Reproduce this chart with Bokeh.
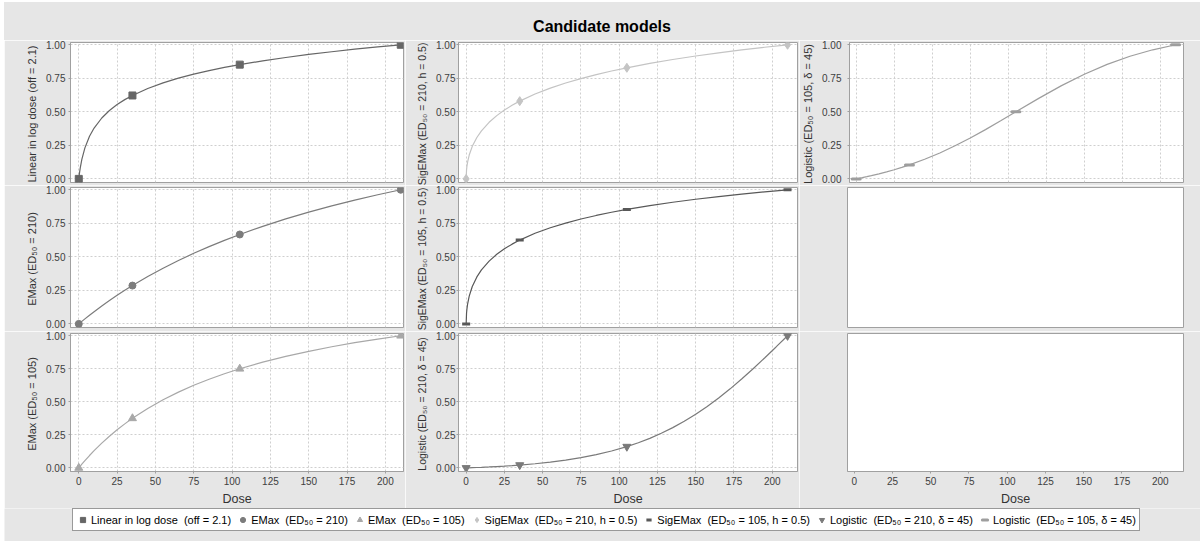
from bokeh.plotting import figure
from bokeh.models import Range1d, FixedTicker, Grid, Legend, LegendItem, Div, NumeralTickFormatter
from bokeh.layouts import column, row
from bokeh.embed import file_html
from bokeh.resources import INLINE

# ---------------- data ----------------
DOSE = [0, 0.25, 0.5, 1, 2, 4, 7, 10, 15, 20, 25, 30, 35, 45, 55, 65, 75, 85, 95,
        105, 120, 135, 150, 165, 180, 195, 210]
DOSE_L210 = [0, 0.25, 0.5, 1, 2, 4, 7, 10, 15, 20, 25, 30, 35, 45, 55, 65, 75, 85, 95,
             105, 112.5, 120, 127.5, 135, 142.5, 150, 157.5, 165, 172.5, 180, 187.5, 195,
             202.5, 210]
MARKER_DOSES = [0, 35, 105, 210]

LIN_LOG = [0.0, 0.0244, 0.0463, 0.0844, 0.145, 0.231, 0.318, 0.379, 0.454, 0.510, 0.554,
           0.591, 0.622, 0.674, 0.716, 0.751, 0.781, 0.807, 0.831, 0.852, 0.880, 0.905,
           0.928, 0.948, 0.967, 0.984, 1.0]
EMAX_210 = [0.0, 0.0024, 0.0048, 0.0095, 0.0189, 0.0374, 0.0645, 0.0909, 0.1333, 0.1739,
            0.2128, 0.25, 0.2857, 0.3529, 0.4151, 0.4727, 0.5263, 0.5763, 0.6230, 0.6667,
            0.7273, 0.7826, 0.8333, 0.88, 0.9231, 0.9630, 1.0]
EMAX_105 = [0.0, 0.0036, 0.0071, 0.0142, 0.0280, 0.0550, 0.0938, 0.1304, 0.1875, 0.24,
            0.2885, 0.3333, 0.375, 0.45, 0.5156, 0.5735, 0.625, 0.6711, 0.7125, 0.75,
            0.8, 0.8438, 0.8824, 0.9167, 0.9474, 0.975, 1.0]
SIGEMAX_210 = [0.0, 0.0667, 0.0930, 0.1291, 0.1778, 0.2426, 0.3088, 0.3583, 0.4218, 0.4717,
               0.5130, 0.5486, 0.5798, 0.6329, 0.6770, 0.7149, 0.7481, 0.7777, 0.8043,
               0.8284, 0.8610, 0.8900, 0.9161, 0.9398, 0.9615, 0.9815, 1.0]
SIGEMAX_105 = [0.0, 0.0794, 0.1102, 0.1518, 0.2070, 0.2788, 0.3503, 0.4026, 0.4682, 0.5187,
               0.5598, 0.5946, 0.6249, 0.6754, 0.7168, 0.7517, 0.7819, 0.8085, 0.8322,
               0.8536, 0.8820, 0.9071, 0.9295, 0.9496, 0.9679, 0.9846, 1.0]
LOGISTIC_210 = [0.0, 0.0001, 0.0002, 0.0004, 0.0009, 0.0018, 0.0032, 0.0047, 0.0074, 0.0105,
                0.0139, 0.0177, 0.0219, 0.0318, 0.0441, 0.0592, 0.0777, 0.1003, 0.1279,
                0.1612, 0.1905, 0.2239, 0.2619, 0.3048, 0.3528, 0.4061, 0.4649, 0.5291,
                0.5984, 0.6724, 0.7504, 0.8317, 0.9153, 1.0]
LOGISTIC_105 = [0.0, 0.0005, 0.0011, 0.0022, 0.0044, 0.0090, 0.0162, 0.0238, 0.0374, 0.0522,
                0.0682, 0.0856, 0.1043, 0.1460, 0.1935, 0.2465, 0.3047, 0.3672, 0.4328,
                0.5, 0.6003, 0.6953, 0.7807, 0.8540, 0.9144, 0.9626, 1.0]

NAMES = ["Linear in log dose  (off = 2.1)",
         "EMax  (ED\u2085\u2080 = 210)",
         "EMax  (ED\u2085\u2080 = 105)",
         "SigEMax  (ED\u2085\u2080 = 210, h = 0.5)",
         "SigEMax  (ED\u2085\u2080 = 105, h = 0.5)",
         "Logistic  (ED\u2085\u2080 = 210, \u03b4 = 45)",
         "Logistic  (ED\u2085\u2080 = 105, \u03b4 = 45)"]
VALUES = [LIN_LOG, EMAX_210, EMAX_105, SIGEMAX_210, SIGEMAX_105, LOGISTIC_210, LOGISTIC_105]
DOSES = [DOSE, DOSE, DOSE, DOSE, DOSE, DOSE_L210, DOSE]

X_TICKS = [0, 25, 50, 75, 100, 125, 150, 175, 200]
Y_TICKS = [0.0, 0.25, 0.5, 0.75, 1.0]
TITLE = "Candidate models"
X_LABEL = "Dose"

# ---------------- styles ----------------
BG = "#e6e6e6"
FONT = "Liberation Sans"
COLORS = ["#666666", "#7c7c7c", "#a8a8a8", "#c4c4c4", "#585858", "#7a7a7a", "#9e9e9e"]
MARKERS = ["square", "circle", "triangle", "diamond", "dash", "inverted_triangle", "dash"]
MSIZES = [7, 7, 8, 9, 8, 8, 8]
MLW = [1, 1, 1, 1, 3, 1, 3]

# column geometry: (fig width, border left, border right, x start, x end, tick std, label std, label size)
COLS = [(401, 66, 2, -5.4, 211.8, 3, 5, "11px"),
        (394, 53, 2, -5.0, 216.5, 1, 5, "10.5px"),
        (401, 48, 17, -4.4, 215.2, 6, 5, "11px")]
# row geometry: (fig height, border top, border bottom)
ROWS = [(145, 2, 3), (146, 2, 4), (177, 2, 36)]
# series index per cell (None = empty panel)
CELLS = [[0, 3, 6], [1, 4, None], [2, 5, None]]


def marker_values(s):
    d, v = DOSES[s], VALUES[s]
    return [v[d.index(m)] for m in MARKER_DOSES]


def make_cell(ri, ci):
    w, bl, br, xs, xe, tstd, lstd, lsize = COLS[ci]
    h, bt, bb = ROWS[ri]
    s = CELLS[ri][ci]
    p = figure(width=w, height=h, output_backend="svg", toolbar_location=None,
               x_range=Range1d(xs, xe), y_range=Range1d(-0.027, 1.017),
               x_axis_location="below" if ri == 2 else None,
               y_axis_location="left" if s is not None else None,
               min_border_left=bl, min_border_right=br, min_border_top=bt, min_border_bottom=bb)
    p.border_fill_color = BG
    p.background_fill_color = "white"
    p.outline_line_color = "#a0a0a0"
    p.grid.visible = False
    for ax in p.axis:
        ax.major_label_text_font = FONT
        ax.major_label_text_font_size = "10px"
        ax.major_label_text_color = "#404040"
        ax.axis_label_text_font = FONT
        ax.axis_label_text_font_style = "normal"
        ax.axis_label_text_color = "#333333"
        ax.axis_line_color = "#a0a0a0"
        ax.major_tick_line_color = "#a0a0a0"
        ax.major_tick_out = 2
        ax.major_tick_in = 0
        ax.minor_tick_line_color = None
    if ri == 2:
        p.xaxis.ticker = FixedTicker(ticks=X_TICKS)
        p.xaxis.axis_label = X_LABEL
        p.xaxis.axis_label_text_font_size = "12.5px"
        p.xaxis.major_label_standoff = 3
        p.xaxis.axis_label_standoff = 4
    if s is not None:
        p.yaxis.ticker = FixedTicker(ticks=Y_TICKS)
        p.yaxis.formatter = NumeralTickFormatter(format="0.00")
        p.yaxis.axis_label = NAMES[s]
        p.yaxis.axis_label_text_font_size = lsize
        p.yaxis.major_label_standoff = tstd
        p.yaxis.axis_label_standoff = lstd
        for dim, tk in ((0, X_TICKS), (1, Y_TICKS)):
            p.add_layout(Grid(dimension=dim, ticker=FixedTicker(ticks=tk),
                              grid_line_color="#cfcfcf", grid_line_dash="2 2"))
        p.line(DOSES[s], VALUES[s], line_color=COLORS[s], line_width=1.2)
        p.scatter(MARKER_DOSES, marker_values(s), marker=MARKERS[s], size=MSIZES[s],
                  fill_color=COLORS[s], line_color=COLORS[s], line_width=MLW[s],
                  line_cap="round" if s == 6 else "butt")
    return p


rows = [row(*[make_cell(ri, ci) for ci in range(3)]) for ri in range(3)]

# legend strip (its marker renderers sit outside the visible range; only the legend shows)
lf = figure(width=1196, height=33, output_backend="svg", toolbar_location=None,
            x_range=Range1d(-1000, -999), y_range=Range1d(-1000, -999),
            x_axis_location=None, y_axis_location=None,
            min_border_left=0, min_border_right=0, min_border_top=0, min_border_bottom=0)
lf.border_fill_color = BG
lf.background_fill_color = BG
lf.outline_line_color = None
lf.grid.visible = False
items = []
for s in range(7):
    r = lf.scatter(MARKER_DOSES, marker_values(s), marker=MARKERS[s], size=MSIZES[s],
                   fill_color=COLORS[s], line_color=COLORS[s], line_width=MLW[s],
                   line_cap="round" if s == 6 else "butt")
    items.append(LegendItem(label=NAMES[s], renderers=[r]))
legend = Legend(items=items, orientation="horizontal", location=(68, 10),
                glyph_width=13, glyph_height=15, label_height=15, label_standoff=2,
                spacing=5, padding=3, margin=0, border_line_color="#333333",
                border_line_width=1, background_fill_color="white", background_fill_alpha=1,
                label_text_font=FONT, label_text_font_size="11px", label_text_color="#000000")
lf.add_layout(legend, "center")

title = Div(text=('<div style="width:1196px;height:38px;line-height:50px;overflow:hidden;'
                  'text-align:center;font-family:\'Liberation Sans\';font-weight:bold;'
                  'font-size:16px;color:#000;background:%s">%s</div>') % (BG, TITLE),
            width=1196, height=38, margin=0, styles={"background-color": BG})

layout = column(title, *rows, lf, margin=(2, 0, 0, 4))
open("out.html", "w").write(file_html(layout, INLINE))
